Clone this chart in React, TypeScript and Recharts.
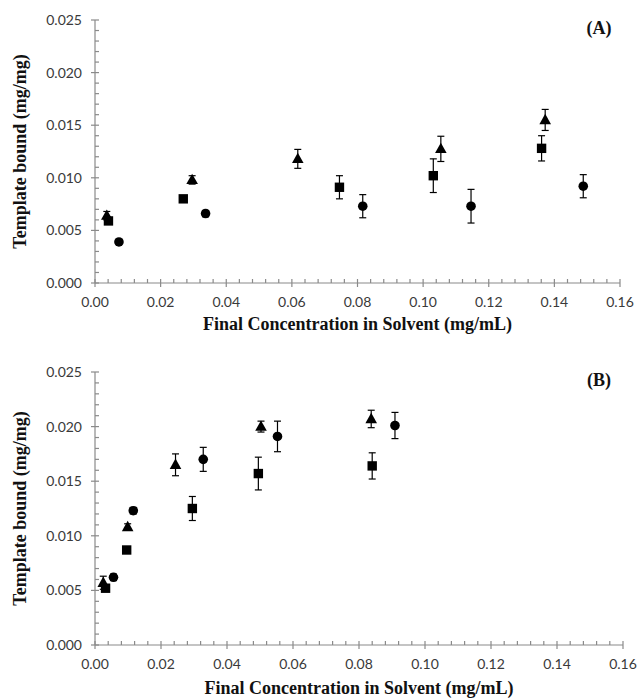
import React from "react";
import {
  ScatterChart,
  Scatter,
  XAxis,
  YAxis,
  ErrorBar,
  Label,
} from "recharts";

// Panel A
const A_TRI_X = [0.0036, 0.0296, 0.0618, 0.1054, 0.1372];
const A_TRI_Y = [0.0064, 0.0098, 0.0118, 0.01275, 0.0155];
const A_TRI_ERR = [0.0004, 0.0004, 0.0009, 0.0012, 0.001];

const A_SQ_X = [0.0041, 0.0269, 0.0745, 0.1031, 0.1361];
const A_SQ_Y = [0.0059, 0.008, 0.0091, 0.0102, 0.0128];
const A_SQ_ERR = [0.0003, 0.0003, 0.0011, 0.0016, 0.0012];

const A_CIR_X = [0.0073, 0.0337, 0.0816, 0.1146, 0.1488];
const A_CIR_Y = [0.0039, 0.0066, 0.0073, 0.0073, 0.0092];
const A_CIR_ERR = [0.0002, 0.0003, 0.0011, 0.0016, 0.0011];

// Panel B
const B_TRI_X = [0.0025, 0.0099, 0.0244, 0.0503, 0.0837];
const B_TRI_Y = [0.0057, 0.0108, 0.0165, 0.02, 0.0207];
const B_TRI_ERR = [0.0006, 0.0003, 0.001, 0.0005, 0.0008];

const B_SQ_X = [0.0032, 0.0096, 0.0295, 0.0495, 0.084];
const B_SQ_Y = [0.0052, 0.0087, 0.0125, 0.0157, 0.0164];
const B_SQ_ERR = [0.0003, 0.0003, 0.0011, 0.0015, 0.0012];

const B_CIR_X = [0.0056, 0.0116, 0.0328, 0.0553, 0.0909];
const B_CIR_Y = [0.0062, 0.0123, 0.017, 0.0191, 0.0201];
const B_CIR_ERR = [0.0003, 0.0003, 0.0011, 0.0014, 0.0012];

// axis ticks: majors every 0.02 / 0.005, four minor steps between
const X_MAJOR = [0, 0.02, 0.04, 0.06, 0.08, 0.1, 0.12, 0.14, 0.16];
const Y_MAJOR = [0, 0.005, 0.01, 0.015, 0.02, 0.025];
const MINOR_PER_MAJOR = 5;

const X_TITLE = "Final Concentration in Solvent (mg/mL)";
const Y_TITLE = "Template bound (mg/mg)";

const AXIS = "#8a8a8a";
const TICK_TEXT = "#3a3a3a";
const TICK_FONT = "Lato, 'Liberation Sans', sans-serif";
const TITLE_FONT = "'Liberation Serif', 'Times New Roman', serif";

function withMinor(major: number[]) {
  const out: number[] = [];
  for (let i = 0; i < major.length - 1; i++) {
    const step = (major[i + 1] - major[i]) / MINOR_PER_MAJOR;
    for (let k = 0; k < MINOR_PER_MAJOR; k++) {
      out.push(Number((major[i] + step * k).toFixed(4)));
    }
  }
  out.push(major[major.length - 1]);
  return out;
}

const X_TICKS = withMinor(X_MAJOR);
const Y_TICKS = withMinor(Y_MAJOR);

function pts(xs: number[], ys: number[], errs: number[]) {
  return xs.map((x, i) => ({ x, y: ys[i], err: errs[i] }));
}

const XTick = (props: any) => {
  const { x, y, index, payload } = props;
  const major = index % MINOR_PER_MAJOR === 0;
  return (
    <g>
      <line x1={x} x2={x} y1={y - 4} y2={major ? y + 4 : y} stroke={AXIS} strokeWidth={1.2} />
      {major && (
        <text
          x={x}
          y={y + 24}
          textAnchor="middle"
          fontSize={14}
          fontFamily={TICK_FONT}
          fill={TICK_TEXT}
        >
          {payload.value.toFixed(2)}
        </text>
      )}
    </g>
  );
};

const YTick = (props: any) => {
  const { x, y, index, payload } = props;
  const major = index % MINOR_PER_MAJOR === 0;
  return (
    <g>
      <line x1={major ? x - 4 : x} x2={x + 4} y1={y} y2={y} stroke={AXIS} strokeWidth={1.2} />
      {major && (
        <text
          x={x - 13}
          y={y + 5}
          textAnchor="end"
          fontSize={14}
          fontFamily={TICK_FONT}
          fill={TICK_TEXT}
        >
          {payload.value.toFixed(3)}
        </text>
      )}
    </g>
  );
};

const Triangle = (props: any) => {
  const { cx, cy } = props;
  return <path d={`M${cx},${cy - 6.2} L${cx + 5.8},${cy + 4.2} L${cx - 5.8},${cy + 4.2} Z`} fill="#000" />;
};

const Square = (props: any) => {
  const { cx, cy } = props;
  return <rect x={cx - 4.7} y={cy - 4.7} width={9.4} height={9.4} fill="#000" />;
};

const Circle = (props: any) => {
  const { cx, cy } = props;
  return <circle cx={cx} cy={cy} r={4.8} fill="#000" />;
};

type PanelProps = {
  height: number;
  margin: { top: number; right: number; left: number; bottom: number };
  xAxisHeight: number;
  titleOffset: number;
  tag: string;
  tri: { x: number; y: number; err: number }[];
  sq: { x: number; y: number; err: number }[];
  cir: { x: number; y: number; err: number }[];
};

const titleStyle = {
  fontFamily: TITLE_FONT,
  fontWeight: "bold",
  fontSize: 18,
  fill: "#111",
};

function Panel({ height, margin, xAxisHeight, titleOffset, tag, tri, sq, cir }: PanelProps) {
  const bars = (
    <ErrorBar dataKey="err" direction="y" width={3.5} stroke="#000" strokeWidth={1.2} />
  );
  return (
    <ScatterChart width={638} height={height} margin={margin}>
      <XAxis
        type="number"
        dataKey="x"
        domain={[0, 0.16]}
        ticks={X_TICKS}
        interval={0}
        tick={<XTick />}
        tickLine={false}
        tickSize={0}
        tickMargin={0}
        axisLine={{ stroke: AXIS, strokeWidth: 1.2 }}
        height={xAxisHeight}
        allowDataOverflow
      >
        <Label value={X_TITLE} position="insideBottom" offset={titleOffset} style={titleStyle} />
      </XAxis>
      <YAxis
        type="number"
        dataKey="y"
        domain={[0, 0.025]}
        ticks={Y_TICKS}
        interval={0}
        tick={<YTick />}
        tickLine={false}
        tickSize={0}
        tickMargin={0}
        axisLine={{ stroke: AXIS, strokeWidth: 1.2 }}
        width={90}
        allowDataOverflow
      >
        <Label
          value={Y_TITLE}
          angle={-90}
          position="insideLeft"
          offset={15}
          style={{ ...titleStyle, textAnchor: "middle" }}
        />
      </YAxis>
      <Scatter data={tri} shape={<Triangle />} isAnimationActive={false}>
        {bars}
      </Scatter>
      <Scatter data={sq} shape={<Square />} isAnimationActive={false}>
        {bars}
      </Scatter>
      <Scatter data={cir} shape={<Circle />} isAnimationActive={false}>
        {bars}
      </Scatter>
      <text
        x={599}
        y={margin.top + 14}
        textAnchor="middle"
        fontFamily={TITLE_FONT}
        fontWeight="bold"
        fontSize={18}
        fill="#111"
      >
        {tag}
      </text>
    </ScatterChart>
  );
}

export default function App() {
  return (
    <div
      style={{
        position: "absolute",
        left: 0,
        top: 0,
        width: 638,
        height: 698,
        background: "#fff",
      }}
    >
      <Panel
        height={345}
        margin={{ top: 20, right: 18, left: 5, bottom: 7 }}
        xAxisHeight={55}
        titleOffset={8}
        tag="(A)"
        tri={pts(A_TRI_X, A_TRI_Y, A_TRI_ERR)}
        sq={pts(A_SQ_X, A_SQ_Y, A_SQ_ERR)}
        cir={pts(A_CIR_X, A_CIR_Y, A_CIR_ERR)}
      />
      <Panel
        height={353}
        margin={{ top: 27, right: 15, left: 5, bottom: 0 }}
        xAxisHeight={53}
        titleOffset={4}
        tag="(B)"
        tri={pts(B_TRI_X, B_TRI_Y, B_TRI_ERR)}
        sq={pts(B_SQ_X, B_SQ_Y, B_SQ_ERR)}
        cir={pts(B_CIR_X, B_CIR_Y, B_CIR_ERR)}
      />
    </div>
  );
}
